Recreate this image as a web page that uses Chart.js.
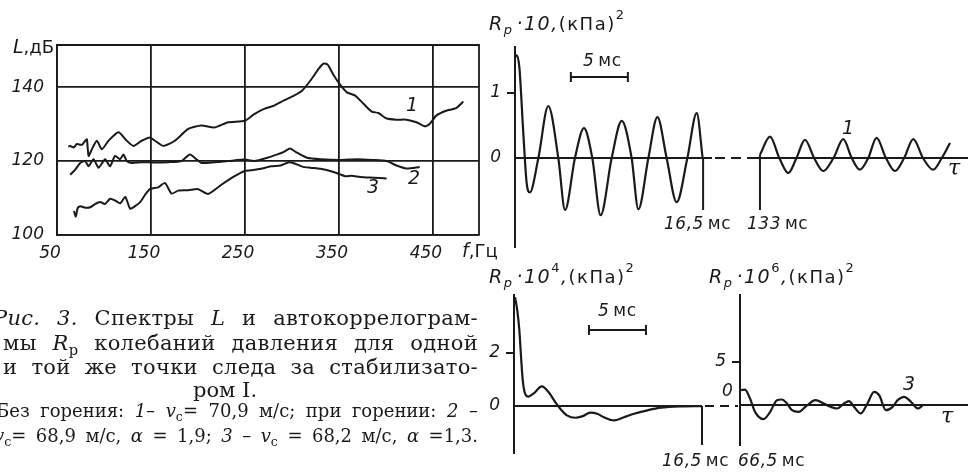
<!DOCTYPE html>
<html>
<head>
<meta charset="utf-8">
<script src="https://cdn.jsdelivr.net/npm/chart.js@4.4.0/dist/chart.umd.min.js"></script>
<style>
html, body { margin: 0; padding: 0; background: #fff; }
#page { position: relative; width: 968px; height: 475px; overflow: hidden; background: #fff; }
#page canvas { position: absolute; left: 0; top: 0; }
.cap { position: absolute; font-family: "DejaVu Serif", serif; color: #1a1a1a; text-align: justify; text-align-last: justify; }
.cap sub { font-size: 0.7em; line-height: 0; vertical-align: -0.35em; font-style: normal; }
</style>
</head>
<body>
<div id="page">
  <canvas id="spec" width="968" height="475"></canvas>
  <canvas id="top1" width="968" height="475"></canvas>
  <canvas id="top2" width="968" height="475"></canvas>
  <canvas id="low1" width="968" height="475"></canvas>
  <canvas id="low2" width="968" height="475"></canvas>

  <div class="cap" style="left:-7px; top:307px; width:485px; font-size:21px; line-height:22px; letter-spacing:0.3px;"><i>Рис. 3.</i> Спектры <i>L</i> и автокоррелограм-</div>
  <div class="cap" style="left:3px; top:332px; width:475px; font-size:21px; line-height:22px; letter-spacing:0.3px;">мы <i>R<sub>p</sub></i> колебаний давления для одной</div>
  <div class="cap" style="left:3px; top:356px; width:475px; font-size:21px; line-height:22px; letter-spacing:0.3px;">и той же точки следа за стабилизато-</div>
  <div class="cap" style="left:193px; top:379px; font-size:21px; line-height:22px; text-align:left; text-align-last:left;">ром I.</div>
  <div class="cap" style="left:-4px; top:401px; width:482px; font-size:18px; line-height:20px;">Без горения: <i>1</i>– <i>v</i><sub>с</sub>= 70,9 м/с; при горении: <i>2</i> –</div>
  <div class="cap" style="left:-6px; top:426px; width:484px; font-size:18px; line-height:20px;"><i>v</i><sub>с</sub>= 68,9 м/с, <i>α</i> = 1,9; <i>3</i> – <i>v</i><sub>с</sub> = 68,2 м/с, <i>α</i> =1,3.</div>
</div>

<script>
const INK = '#1a1a1a';

// spectra L(f), dB
const specXTicks = [50, 150, 250, 350, 450];
const specYTicks = [100, 120, 140];
const f1 = [62, 64, 67.7, 71.2, 76.5, 80, 81.8, 83.6, 87.1, 92.4, 97.7, 104.8, 115.4, 124.2, 131.3, 140.1, 149, 154.2, 163.1, 175.4,
            189.6, 203.7, 217.8, 232, 250, 259.9, 270.4, 281, 291.5, 302.1, 310.9, 319.7, 328.5, 333.8, 338, 344.4, 351.4, 358.5, 367.3, 376.1,
            384.9, 391.9, 400.7, 411.3, 421.8, 432.4, 441.2, 446.5, 453.5, 464.1, 474.6, 482.4];
const L1 = [123.9, 124.1, 123.7, 124.6, 124.4, 125.5, 125.9, 121.4, 123.2, 125.5, 123.2, 125.5, 127.8, 125.5, 124.1, 125.5, 126.4, 125.5, 124.1, 125.5,
            128.7, 129.6, 129.1, 130.5, 130.9, 132.7, 134.1, 135, 136.4, 137.7, 139.1, 141.8, 145, 146.4, 146.1, 143.2, 140.6, 138.6, 137.7, 135.5,
            133.4, 133, 131.5, 131.2, 131.2, 130.5, 129.4, 130, 132.3, 133.6, 134.3, 136.1];
const f2 = [64.1, 69.4, 74.7, 80, 83.6, 88.9, 94.2, 101.2, 106.5, 111.8, 117.1, 120.7, 124.2, 129.5, 140.1, 154.2, 168.4, 182.5, 191.3, 198.4,
            203.7, 217.8, 232, 249.6, 259.9, 273.9, 284.5, 291.5, 297.9, 303.9, 316.2, 330.3, 351.4, 369, 386.6, 400.7, 411.3, 421.8, 435.9];
const L2 = [116.3, 117.7, 119.5, 120, 118.6, 120.5, 118.2, 120.5, 118.6, 121.4, 120.5, 121.8, 120, 119.5, 119.7, 119.6, 119.7, 120, 121.8, 120.5,
            119.5, 119.7, 120, 120.4, 120, 120.9, 121.8, 122.5, 123.4, 122.5, 120.9, 120.5, 120.3, 120.5, 120.3, 120, 118.8, 118, 118.4];
const f3 = [68, 70, 72, 74.8, 80, 85.4, 90, 96, 101, 106.6, 112, 117.3, 122.6, 127.9, 133, 138.5, 144, 149.1, 157.8, 164.8,
            171.9, 179, 189.6, 200.2, 210.8, 224.9, 239, 249.6, 256.3, 266.9, 277.5, 288, 296.8, 302.1, 310.9, 319.7, 330.3, 340.8, 351.4, 356.7,
            363.7, 372.5, 386.6, 400.7];
const L3 = [106.5, 105, 107.3, 107.8, 107.4, 107.5, 108.3, 108.9, 108.4, 109.8, 109.3, 108.6, 110.3, 107.1, 107.8, 108.9, 111, 112.5, 112.9, 114.1,
            111.2, 112, 112.1, 112.4, 111.1, 113.6, 115.9, 117.3, 117.5, 117.9, 118.6, 118.8, 119.7, 119.4, 118.5, 118.2, 117.9, 117.3, 116.4, 115.9,
            116, 115.7, 115.5, 115.3];

// autocorrelograms, tau in ms
const tauTop1 = [0, 0.15, 0.38, 0.73, 1.02, 1.3, 2.05, 2.92, 3.8, 4.39, 5.26, 6.05, 6.78, 7.51, 8.48, 9.36, 10.23, 10.82, 11.7, 12.49, 13.3, 14.18, 15.12, 15.94, 16.46];
const rTop1 = [1.55, 1.58, 1.4, 0.38, -0.38, -0.53, 0, 0.8, 0, -0.8, 0, 0.46, 0, -0.88, 0, 0.57, 0, -0.79, 0, 0.63, 0, -0.68, 0, 0.69, 0];
const tauTop2 = [133, 133.88, 134.7, 135.49, 136.2, 136.95, 137.75, 138.55, 139.45, 140.31, 141.05, 141.77, 142.5, 143.23, 144.05, 144.84, 145.65, 146.45, 147.3, 148.2, 148.95, 149.67];
const rTop2 = [0.05, 0.33, 0, -0.23, 0, 0.28, 0, -0.2, 0, 0.29, 0, -0.18, 0, 0.31, 0, -0.2, 0, 0.29, 0, -0.18, 0, 0.23];
const tauLow1 = [0.09, 0.29, 0.47, 0.62, 0.77, 0.97, 1.26, 1.71, 2.44, 3.03, 3.62, 4.06, 4.65, 5.38, 5.97, 6.71, 7.3, 7.88, 8.76, 9.65, 10.53, 11.71, 12.89, 14.65, 16.5];
const rLow1 = [4.11, 3.6, 2.86, 1.85, 0.97, 0.47, 0.36, 0.47, 0.74, 0.53, 0.15, -0.1, -0.35, -0.44, -0.39, -0.25, -0.29, -0.42, -0.54, -0.42, -0.29, -0.16, -0.06, -0.01, 0];
const tauLow2 = [66.6, 66.94, 67.38, 67.82, 68.56, 69.15, 69.74, 70.18, 70.62, 71.06, 71.65, 72.24, 73.12, 73.85, 74.44, 75.03, 75.62, 76.06, 76.5, 77.09,
                 77.68, 78.26, 78.71, 79.3, 79.89, 80.33, 80.91, 81.5, 82.1, 82.54];
const rLow2 = [1.7, 1.76, 0.7, -0.86, -1.72, -0.86, 0.51, 0.59, 0.12, -0.66, -0.86, -0.27, 0.51, 0.12, -0.27, -0.47, 0.12, 0.39, -0.27, -1.05,
               0.12, 1.48, 1.09, -0.66, -0.27, 0.51, 0.9, 0.31, -0.47, -0.08];
const topBreaks = [16.5, 133];
const lowBreaks = [16.5, 66.5];
const topTicks = [0, 1];
const lowLeftTicks = [0, 2];
const lowRightTicks = [0, 5];

const F_IT = 'italic 19px "DejaVu Sans"';
const F_UP = '18px "DejaVu Sans"';
const F_MS = '17px "DejaVu Sans"';
const F_SUB = 'italic 13px "DejaVu Sans"';
const F_SUP = '13px "DejaVu Sans"';
const F_NUM = 'italic 17px "DejaVu Sans"';
const TICK_FONT = { family: 'DejaVu Sans', style: 'italic', size: 17 };

const pts = (xs, ys) => xs.map((x, i) => ({ x, y: ys[i] }));

function write(ctx, x, y, parts, spacing) {
  ctx.save();
  ctx.fillStyle = INK;
  ctx.textBaseline = 'middle';
  ctx.textAlign = 'left';
  ctx.letterSpacing = spacing || '0px';
  for (const [s, font, dy, gap] of parts) {
    ctx.font = font;
    ctx.fillText(s, x, y + (dy || 0));
    x += ctx.measureText(s).width + (gap || 0);
  }
  ctx.restore();
}

function seg(ctx, x1, y1, x2, y2, dash) {
  ctx.save();
  ctx.strokeStyle = INK;
  ctx.lineWidth = 2;
  if (dash) ctx.setLineDash(dash);
  ctx.beginPath();
  ctx.moveTo(x1, y1);
  ctx.lineTo(x2, y2);
  ctx.stroke();
  ctx.restore();
}

function scaleBar(ctx, x1, x2, y) {
  seg(ctx, x1, y, x2, y);
  seg(ctx, x1, y - 5, x1, y + 5);
  seg(ctx, x2, y - 5, x2, y + 5);
}

function rpLabel(ctx, x, y, power) {
  const parts = [['R', F_IT], ['p', F_SUB, 6, 3], ['·10', F_IT]];
  if (power) parts.push([power, F_SUP, -9]);
  parts.push([',', F_IT], ['(кПа)', F_UP], ['2', F_SUP, -9]);
  write(ctx, x, y, parts, '1.5px');
}

const ms = (ctx, x, y, num) => write(ctx, x, y, [[num, F_NUM, 0, 4], ['мс', F_MS]], '0.5px');

// spectrum
new Chart(document.getElementById('spec'), {
  type: 'line',
  data: {
    datasets: [
      { data: pts(f1, L1) },
      { data: pts(f2, L2) },
      { data: pts(f3, L3) }
    ].map(d => Object.assign(d, { borderColor: INK, borderWidth: 2, pointRadius: 0, tension: 0.2, fill: false }))
  },
  options: {
    responsive: false,
    animation: false,
    devicePixelRatio: 1,
    layout: { padding: { left: 0, top: 45, right: 489, bottom: 200 } },
    plugins: { legend: { display: false }, tooltip: { enabled: false } },
    scales: {
      x: {
        type: 'linear', min: 50, max: 499,
        afterFit: s => { s.height = 40; },
        afterBuildTicks: s => { s.ticks = specXTicks.map(v => ({ value: v })); },
        border: { color: INK, width: 1.8 },
        grid: { color: INK, lineWidth: 1.8, drawTicks: false },
        ticks: { color: INK, font: TICK_FONT, padding: 8, labelOffset: -7 }
      },
      y: {
        min: 100, max: 151.4,
        afterFit: s => { s.width = 57; },
        afterBuildTicks: s => { s.ticks = specYTicks.map(v => ({ value: v })); },
        border: { color: INK, width: 1.8 },
        grid: { color: INK, lineWidth: 1.8, drawTicks: false },
        ticks: { color: INK, font: TICK_FONT, padding: 13 }
      }
    }
  },
  plugins: [{
    id: 'specNotes',
    afterDraw(chart) {
      const { ctx, chartArea: a } = chart;
      ctx.save();
      ctx.strokeStyle = INK;
      ctx.lineWidth = 1.8;
      ctx.beginPath();
      ctx.moveTo(a.left, a.top);
      ctx.lineTo(a.right, a.top);
      ctx.lineTo(a.right, a.bottom);
      ctx.stroke();
      ctx.restore();
      write(ctx, 13, 48, [['L', F_IT], [',дБ', F_UP]]);
      write(ctx, 462, 252, [['f', F_IT], [',Гц', F_UP]]);
      write(ctx, 406, 106, [['1', F_IT]]);
      write(ctx, 408, 179, [['2', F_IT]]);
      write(ctx, 367, 188, [['3', F_IT]]);
    }
  }]
});

function corrChart(id, o) {
  return new Chart(document.getElementById(id), {
    type: 'line',
    data: {
      datasets: [{
        data: pts(o.tau, o.r), borderColor: INK, borderWidth: 2.2, pointRadius: 0,
        cubicInterpolationMode: 'monotone', fill: false
      }]
    },
    options: {
      responsive: false,
      animation: false,
      devicePixelRatio: 1,
      layout: { padding: o.pad },
      plugins: { legend: { display: false }, tooltip: { enabled: false } },
      scales: {
        x: { type: 'linear', display: false, min: o.xmin, max: o.xmax },
        y: {
          min: o.ymin, max: o.ymax,
          afterFit: s => { s.width = 40; },
          afterBuildTicks: s => { s.ticks = o.ticks.map(v => ({ value: v })); },
          border: { display: o.axis, color: INK, width: 2 },
          grid: {
            color: c => (c.tick && c.tick.value === 0 ? INK : 'rgba(0,0,0,0)'),
            tickColor: c => (c.tick && c.tick.value === 0 ? 'rgba(0,0,0,0)' : INK),
            lineWidth: 2,
            tickLength: 8
          },
          ticks: {
            color: INK, font: TICK_FONT, padding: 6,
            callback: v => (o.hideZero && v === 0 ? '' : String(v))
          }
        }
      }
    },
    plugins: [{ id: id + 'Notes', afterDraw: o.notes }]
  });
}

corrChart('top1', {
  tau: tauTop1, r: rTop1, ticks: topTicks, axis: true,
  pad: { left: 475, top: 47, right: 256, bottom: 228 },
  xmin: 0, xmax: 17.28, ymin: -1.369, ymax: 1.708,
  notes(chart) {
    const { ctx, scales: { x, y }, chartArea: a } = chart;
    const y0 = y.getPixelForValue(0);
    const xb = x.getPixelForValue(topBreaks[0]);
    seg(ctx, xb, y0, xb, y.getPixelForValue(-0.8));
    seg(ctx, a.right + 3, y0, a.right + 46, y0, [10, 6]);
    scaleBar(ctx, x.getPixelForValue(4.9), x.getPixelForValue(9.9), 77);
    rpLabel(ctx, 489, 25, '');
    ms(ctx, 583, 62, '5');
    ms(ctx, 664, 225, '16,5');
  }
});

corrChart('top2', {
  tau: tauTop2, r: rTop2, ticks: [0], axis: false, hideZero: true,
  pad: { left: 717, top: 47, right: 0, bottom: 228 },
  xmin: 132.74, xmax: 151.25, ymin: -1.369, ymax: 1.708,
  notes(chart) {
    const { ctx, scales: { x, y } } = chart;
    const xb = x.getPixelForValue(topBreaks[1]);
    seg(ctx, xb, y.getPixelForValue(0.05), xb, y.getPixelForValue(-0.8));
    ms(ctx, 747, 225, '133');
    write(ctx, 842, 129, [['1', F_IT]]);
    write(ctx, 948, 169, [['τ', 'italic 22px "DejaVu Serif"']]);
  }
});

corrChart('low1', {
  tau: tauLow1, r: rLow1, ticks: lowLeftTicks, axis: true,
  pad: { left: 474, top: 295, right: 266, bottom: 22 },
  xmin: 0, xmax: 16.5, ymin: -1.77, ymax: 4.19,
  notes(chart) {
    const { ctx, scales: { x, y }, chartArea: a } = chart;
    const y0 = y.getPixelForValue(0);
    const xb = x.getPixelForValue(lowBreaks[0]);
    seg(ctx, xb, y0, xb, y.getPixelForValue(-1.47));
    seg(ctx, a.right + 3, y0, a.right + 36, y0, [9, 6]);
    scaleBar(ctx, x.getPixelForValue(6.58), x.getPixelForValue(11.58), 330);
    rpLabel(ctx, 489, 278, '4');
    ms(ctx, 598, 312, '5');
    ms(ctx, 662, 462, '16,5');
  }
});

corrChart('low2', {
  tau: tauLow2, r: rLow2, ticks: lowRightTicks, axis: true, hideZero: true,
  pad: { left: 700, top: 295, right: 0, bottom: 30 },
  xmin: lowBreaks[1], xmax: 86.5, ymin: -4.76, ymax: 12.88,
  notes(chart) {
    const { ctx } = chart;
    rpLabel(ctx, 709, 278, '6');
    write(ctx, 722, 392, [['0', F_NUM]]);
    write(ctx, 903, 385, [['3', F_IT]]);
    write(ctx, 941, 417, [['τ', 'italic 22px "DejaVu Serif"']]);
    ms(ctx, 738, 462, '66,5');
  }
});
</script>
</body>
</html>
